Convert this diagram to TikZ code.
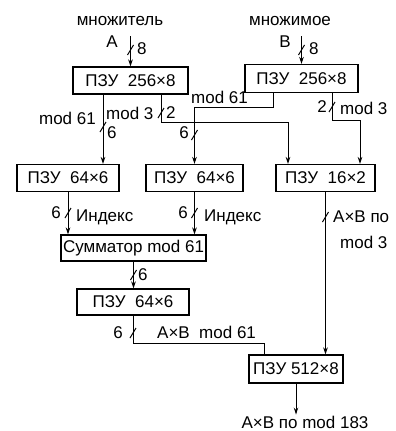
\documentclass[tikz,border=0pt]{standalone}
\usepackage{fontspec}
\setmainfont{Liberation Sans}
\usetikzlibrary{arrows.meta}
\tikzset{
  rombox/.style = {draw, line width=1.1pt, minimum height=27pt, inner sep=2pt,
                   font=\fontsize{17}{19}\selectfont},
  sig/.style    = {line width=1pt},
  sigarr/.style = {sig, -{Stealth[length=7pt,width=4.5pt]}},
  lbl/.style    = {inner sep=1pt, font=\fontsize{17}{19}\selectfont}
}

\begin{document}
\begin{tikzpicture}[x=1pt,y=-1pt]
  \useasboundingbox (0,0) rectangle (396,431);
  % memories
  \node[rombox,minimum width=115pt] (romA) at (130.5,80.5) {ПЗУ\ \ 256×8};
  \node[rombox,minimum width=113pt,minimum height=28pt] (romB) at (301.5,78.5) {ПЗУ\ \ 256×8};
  \node[rombox,minimum width=102pt] (romC) at (68,178) {ПЗУ\ \ 64×6};
  \node[rombox,minimum width=97pt] (romD) at (194.5,178) {ПЗУ\ \ 64×6};
  \node[rombox,minimum width=99pt] (romE) at (325.5,178) {ПЗУ\ \ 16×2};
  \node[rombox,minimum width=145pt,minimum height=26pt] (adder) at (133.5,248) {Сумматор mod 61};
  \node[rombox,minimum width=112pt,minimum height=26pt] (romF) at (133,302) {ПЗУ\ \ 64×6};
  \node[rombox,minimum width=94pt,minimum height=28pt] (romG) at (296,369) {ПЗУ\ 512×8};
  % inputs
  \node[lbl] (mul) at (120,21) {множитель};
  \node[lbl] (mcd) at (290,21) {множимое};
  \node[lbl] (opA) at (112,42) {A};
  \node[lbl] (opB) at (285,42) {B};
  \node[lbl,right] (wA) at (136,49) {8};
  \node[lbl,right] (wB) at (308,49) {8};
  \coordinate (inA) at (130.5,36);
  \coordinate (inB) at (301.5,36);
  \draw[sigarr] (inA) -- (romA.north);
  \draw[sigarr] (inB) -- (romB.north);
  % first stage
  \draw[sigarr] ([xshift=-27.5pt]romA.south) -- ([xshift=35pt]romC.north);
  \draw[sigarr] ([xshift=30.5pt]romA.south) -- ++(0,28) -| ([xshift=-37.5pt]romE.north);
  \draw[sigarr] ([xshift=-28.5pt]romB.south) -- ++(0,14.5) -| (romD.north);
  \draw[sigarr] ([xshift=30.5pt]romB.south) -- ++(0,27.5) -| ([xshift=34.5pt]romE.north);
  % adder and output
  \draw[sigarr] (romC.south) -- (romC.south |- adder.north);
  \draw[sigarr] (romD.south) -- (romD.south |- adder.north);
  \draw[sigarr] (adder.south) -- (adder.south |- romF.north);
  \draw[sig] (romF.south) -- ++(0,28) -| ([xshift=-32pt]romG.north);
  \draw[sigarr] (romE.south) -- (romE.south |- romG.north);
  \node[lbl] (res) at (305,422) {A×B по mod 183};
  \draw[sigarr] (romG.south) -- (romG.south |- res.north);
  % bus widths
  \foreach \pt in {(130.5,50),(301.5,50),(103,127),(161,113),(194.5,135),(332,107),
                   (68,213),(194.5,213),(325.5,217),(133.5,275),(133,333)}
    \draw[sig] \pt ++(-3,5) -- ++(6,-10);
  \node[lbl,left]  (l1)  at (97,118)  {mod 61};
  \node[lbl,right] (l2)  at (105,113) {mod 3};
  \node[lbl,right] (l3)  at (106,133) {6};
  \node[lbl,right] (l4)  at (165,113) {2};
  \node[lbl,right] (l5)  at (190,97)  {mod 61};
  \node[lbl,left]  (l6)  at (190,133) {6};
  \node[lbl,left]  (l7)  at (328,107) {2};
  \node[lbl,right] (l8)  at (339,108) {mod 3};
  \node[lbl,left]  (l9)  at (62,213)  {6};
  \node[lbl,right] (l10) at (75,217)  {Индекс};
  \node[lbl,left]  (l11) at (189,213) {6};
  \node[lbl,right] (l12) at (203,217) {Индекс};
  \node[lbl,right] (l13) at (332,217) {A×B по};
  \node[lbl,right] (l14) at (339,242) {mod 3};
  \node[lbl,right] (l15) at (137,275) {6};
  \node[lbl,left]  (l16) at (124,333) {6};
  \node[lbl,right] (l17) at (156,332) {A×B\ \ mod 61};
\end{tikzpicture}
\end{document}
